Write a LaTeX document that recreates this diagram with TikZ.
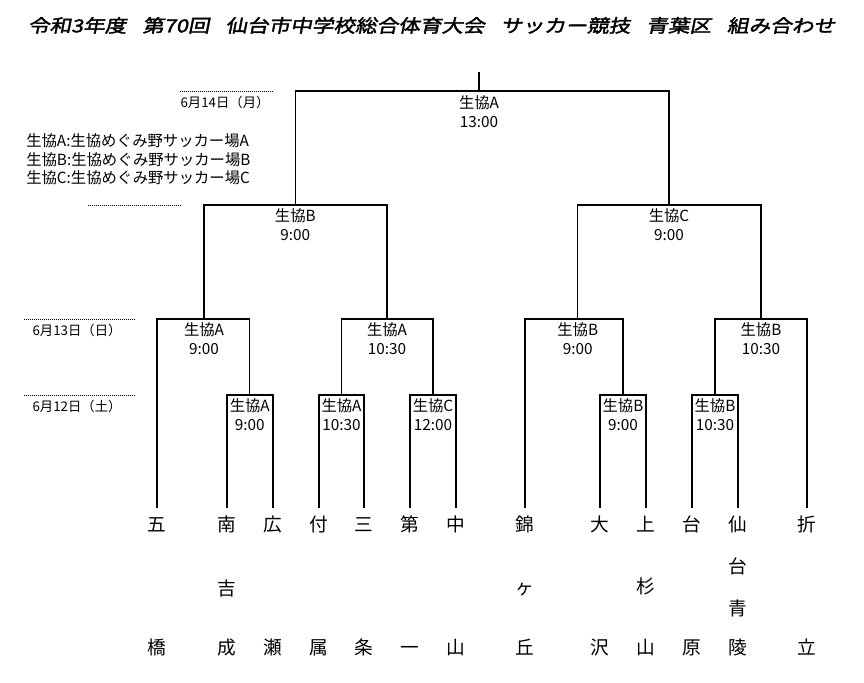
\documentclass[tikz,border=0pt]{standalone}
\usepackage{fontspec}
\newfontfamily\jp{Noto Sans CJK JP}
\newfontfamily\jptitle[FakeStretch=1.2,FakeSlant=0.2,FakeBold=2]{Noto Sans CJK JP}
\begin{document}
\begin{tikzpicture}[x=0.75pt,y=-0.75pt,
  br/.style={line width=0.8pt,black},
  dots/.style={line width=0.75pt,dash pattern=on 0.75pt off 0.75pt},
  lbl/.style={font=\jp\fontsize{11.5}{11.5}\selectfont,anchor=base,inner sep=0pt},
  legend/.style={font=\jp\fontsize{11.5}{11.5}\selectfont,anchor=base west,inner sep=0pt},
  datelbl/.style={font=\jp\fontsize{10}{10}\selectfont,anchor=base,inner sep=0pt},
  leaf/.style={font=\jp\fontsize{14}{14}\selectfont,anchor=base,inner sep=0pt,text height=17pt,text depth=0pt},
  leafc/.style={font=\jp\fontsize{14}{14}\selectfont,anchor=base,inner sep=0pt},
  titlestyle/.style={font=\jptitle\fontsize{13.5}{13.5}\selectfont,anchor=base,inner sep=0pt}]
\useasboundingbox[fill=white] (0,0) rectangle (864,682);

% title
\node[titlestyle] (title) at (431.5,32.3) {令和3年度\hspace{12pt}第70回\hspace{12pt}仙台市中学校総合体育大会\hspace{12pt}サッカー競技\hspace{12pt}青葉区\hspace{12pt}組み合わせ};

% legend
\node[legend] (legA) at (26,146) {生協A:生協めぐみ野サッカー場A};
\node[legend] (legB) at (26,165) {生協B:生協めぐみ野サッカー場B};
\node[legend] (legC) at (26,183.3) {生協C:生協めぐみ野サッカー場C};

% date lines
\coordinate (d14a) at (180,91.7); \coordinate (d14b) at (272.7,91.7);
\draw[dots] (d14a) -- (d14b);
\node[datelbl] (d14) at (225,107) {6月14日（月）};
\coordinate (dxa) at (88.3,205.7); \coordinate (dxb) at (181,205.7);
\draw[dots] (dxa) -- (dxb);
\coordinate (d13a) at (24,319.3); \coordinate (d13b) at (135,319.3);
\draw[dots] (d13a) -- (d13b);
\node[datelbl] (d13) at (77,335) {6月13日（日）};
\coordinate (d12a) at (24,395.7); \coordinate (d12b) at (135,395.7);
\draw[dots] (d12a) -- (d12b);
\node[datelbl] (d12) at (77,411) {6月12日（土）};

% teams
\node[leaf] (goh) at (157,531) {五};   \node[leafc] (goh2) at (157,654) {橋};
\node[leaf] (nanki) at (227,531) {南}; \node[leafc] (nanki2) at (227,595) {吉}; \node[leafc] (nanki3) at (227,654) {成};
\node[leaf] (hiro) at (273,531) {広};  \node[leafc] (hiro2) at (273,654) {瀬};
\node[leaf] (fuzoku) at (319,531) {付}; \node[leafc] (fuzoku2) at (319,654) {属};
\node[leaf] (sanjo) at (364,531) {三}; \node[leafc] (sanjo2) at (364,654) {条};
\node[leaf] (daiichi) at (410,531) {第}; \node[leafc] (daiichi2) at (410,654) {一};
\node[leaf] (naka) at (456,531) {中};  \node[leafc] (naka2) at (456,654) {山};
\node[leaf] (nishiki) at (525,531) {錦}; \node[leafc] (nishiki2) at (525,594) {ヶ}; \node[leafc] (nishiki3) at (525,654) {丘};
\node[leaf] (osawa) at (600,531) {大}; \node[leafc] (osawa2) at (600,654) {沢};
\node[leaf] (kami) at (646,531) {上};  \node[leafc] (kami2) at (646,593.3) {杉}; \node[leafc] (kami3) at (646,654) {山};
\node[leaf] (daihara) at (692,531) {台}; \node[leafc] (daihara2) at (692,654) {原};
\node[leaf] (seiryo) at (738,531) {仙}; \node[leafc] (seiryo2) at (738,573.3) {台}; \node[leafc] (seiryo3) at (738,615.3) {青}; \node[leafc] (seiryo4) at (738,654) {陵};
\node[leaf] (ori) at (807,531) {折};   \node[leafc] (ori2) at (807,654) {立};

% match points
\coordinate (m1) at (249.8,395); \coordinate (m2) at (341.5,395); \coordinate (m3) at (433,395);
\coordinate (m4) at (623,395);   \coordinate (m5) at (715,395);
\coordinate (s1) at (204,319);   \coordinate (s2) at (387,319);
\coordinate (s3) at (577.7,319); \coordinate (s4) at (761,319);
\coordinate (q1) at (295.3,205); \coordinate (q2) at (669,205);
\coordinate (f) at (479,91);     \coordinate (ftop) at (479,72);

% brackets
\draw[br] (nanki.north) |- (m1) -| (hiro.north);
\draw[br] (fuzoku.north) |- (m2) -| (sanjo.north);
\draw[br] (daiichi.north) |- (m3) -| (naka.north);
\draw[br] (osawa.north) |- (m4) -| (kami.north);
\draw[br] (daihara.north) |- (m5) -| (seiryo.north);
\draw[br] (goh.north) |- (s1) -| (m1);
\draw[br] (m2) |- (s2) -| (m3);
\draw[br] (nishiki.north) |- (s3) -| (m4);
\draw[br] (m5) |- (s4) -| (ori.north);
\draw[br] (s1) |- (q1) -| (s2);
\draw[br] (s3) |- (q2) -| (s4);
\draw[br] (q1) |- (f) -| (q2);
\draw[br] (f) -- (ftop);

% match labels
\node[lbl] (m1v) at (249.8,411.5) {生協A}; \node[lbl] (m1t) at (249.8,430.5) {9:00};
\node[lbl] (m2v) at (341.5,411.5) {生協A}; \node[lbl] (m2t) at (341.5,430.5) {10:30};
\node[lbl] (m3v) at (433,411.5) {生協C};   \node[lbl] (m3t) at (433,430.5) {12:00};
\node[lbl] (m4v) at (623,411.5) {生協B};   \node[lbl] (m4t) at (623,430.5) {9:00};
\node[lbl] (m5v) at (715,411.5) {生協B};   \node[lbl] (m5t) at (715,430.5) {10:30};
\node[lbl] (s1v) at (204,335.5) {生協A};   \node[lbl] (s1t) at (204,354.5) {9:00};
\node[lbl] (s2v) at (387,335.5) {生協A};   \node[lbl] (s2t) at (387,354.5) {10:30};
\node[lbl] (s3v) at (577.7,335.5) {生協B}; \node[lbl] (s3t) at (577.7,354.5) {9:00};
\node[lbl] (s4v) at (761,335.5) {生協B};   \node[lbl] (s4t) at (761,354.5) {10:30};
\node[lbl] (q1v) at (295.3,221.5) {生協B}; \node[lbl] (q1t) at (295.3,240.5) {9:00};
\node[lbl] (q2v) at (669,221.5) {生協C};   \node[lbl] (q2t) at (669,240.5) {9:00};
\node[lbl] (fv) at (479,108.5) {生協A};    \node[lbl] (ft) at (479,127.5) {13:00};
\end{tikzpicture}
\end{document}
